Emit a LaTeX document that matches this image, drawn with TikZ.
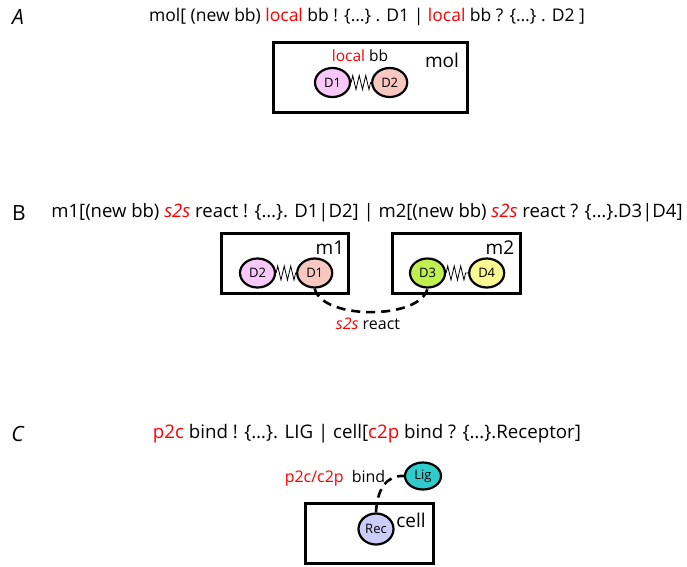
\documentclass[tikz,border=0pt]{standalone}
\usepackage{fontspec}
\setmainfont{Open Sans}
\usetikzlibrary{positioning,shapes,decorations.pathmorphing}
\definecolor{domA}{HTML}{F8C8F8}
\definecolor{domB}{HTML}{F8C8C0}
\definecolor{domC}{HTML}{C0F050}
\definecolor{domD}{HTML}{F8F890}
\definecolor{lig}{HTML}{30CCCC}
\definecolor{rec}{HTML}{CCCCF8}
\newcommand{\kw}[1]{\textcolor{red}{#1}}

\begin{document}
\begin{tikzpicture}[x=1pt,y=-1pt,font=\fontsize{16}{19}\selectfont]
	\tikzstyle{membrane}=[draw,line width=3pt,inner sep=0pt]
	\tikzstyle{protdom}=[draw,ellipse,line width=2.2pt,minimum width=35pt,minimum height=29pt,inner sep=0pt,font=\fontsize{13}{15}\selectfont]
	\tikzstyle{spring}=[decorate,decoration={zigzag,segment length=6.5pt,amplitude=7pt},line width=0.8pt]
	\tikzstyle{channel}=[line width=2.6pt,dash pattern=on 9pt off 6pt]
	\tikzstyle{heading}=[inner sep=0pt]
	\tikzstyle{boxname}=[inner sep=0pt,font=\fontsize{19}{22}\selectfont]
	\tikzstyle{panel}=[inner sep=0pt,font=\fontsize{21}{24}\selectfont]
	\useasboundingbox (0,0) rectangle (687,566);

	%% A: local communication inside one molecule
	\node[panel] (labA) at (18,17) {\textit{A}};
	\node[heading,font=\fontsize{17.5}{20}\selectfont] (titA) at (367,17) {mol[ (new bb) \kw{local} bb ! \{…\} . D1 | \kw{local} bb ? \{…\} . D2 ]};
	\node[membrane,minimum width=194pt,minimum height=70pt] (mol) at (370,77) {};
	\node[boxname] (molname) at (442,60) {mol};
	\node[protdom,fill=domA] (D1) at (332.5,82.5) {D1};
	\node[protdom,fill=domB,right=20pt of D1] (D2) {D2};
	\draw[spring] (D1) -- (D2);
	\node[heading,font=\fontsize{15.5}{18}\selectfont] (bbA) at (360,56) {\kw{local} bb};

	%% B: surface to surface
	\node[panel] (labB) at (19,213) {B};
	\node[heading,font=\fontsize{18.5}{21}\selectfont] (titB) at (367,213) {m1[(new bb) \kw{\textit{s2s}} react ! \{…\}. D1|D2] | m2[(new bb) \kw{\textit{s2s}} react ? \{…\}.D3|D4]};
	\node[membrane,minimum width=127pt,minimum height=60pt] (m1) at (284.5,263) {};
	\node[membrane,minimum width=128pt,minimum height=60pt] (m2) at (456,263) {};
	\node[boxname] (m1name) at (330,248) {m1};
	\node[boxname] (m2name) at (500,248) {m2};
	\node[protdom,fill=domA] (D2b) at (257.5,273) {D2};
	\node[protdom,fill=domB,right=20pt of D2b] (D1b) {D1};
	\node[protdom,fill=domC] (D3b) at (427.5,273) {D3};
	\node[protdom,fill=domD,right=22pt of D3b] (D4b) {D4};
	\draw[spring] (D2b) -- (D1b);
	\draw[spring] (D3b) -- (D4b);
	\draw[channel] (D1b.south) .. controls (322,320) and (420,320) .. (D3b.south);
	\node[heading] (react) at (368,324) {\kw{\textit{s2s}} react};

	%% C: protein to cell
	\node[panel] (labC) at (18,434) {\textit{C}};
	\node[heading,font=\fontsize{18.7}{21}\selectfont] (titC) at (367,434) {\kw{p2c} bind ! \{…\}. LIG | cell[\kw{c2p} bind ? \{…\}.Receptor]};
	\node[membrane,minimum width=128pt,minimum height=60pt] (cell) at (369,533) {};
	\node[boxname] (cellname) at (411,520) {cell};
	\node[protdom,fill=rec,minimum height=31pt] (Rec) at (376,529) {Rec};
	\node[protdom,fill=lig,minimum width=36pt,minimum height=27pt] (Lig) at (423,476) {Lig};
	\draw[channel] (Rec.north) .. controls (377,490) and (386,475) .. (Lig.west);
	\node[heading] (bind) at (335,478) {\kw{p2c/c2p}\enspace bind};
\end{tikzpicture}
\end{document}
